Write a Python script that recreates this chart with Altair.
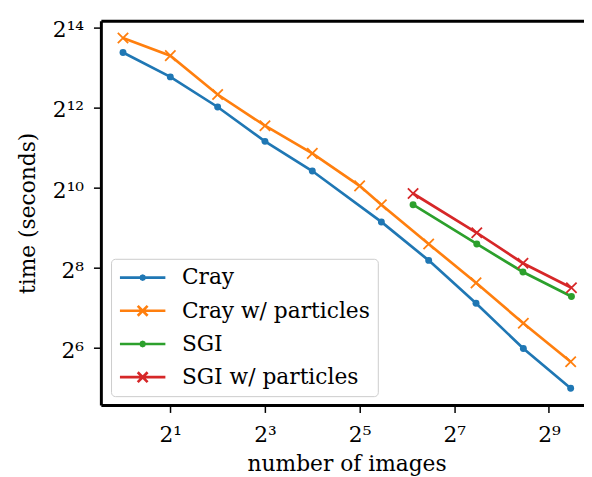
import altair as alt
import pandas as pd

series_names = ["Cray", "Cray w/ particles", "SGI", "SGI w/ particles"]
colors = ["#1f77b4", "#ff7f0e", "#2ca02c", "#d62728"]

cray_images = [1, 2, 4, 8, 16, 44, 88, 176, 352, 704]
cray_time = [10660, 6985, 4150, 2290, 1370, 568, 292, 139, 63.6, 32]

crayp_images = [1, 2, 4, 8, 16, 32, 44, 88, 176, 352, 704]
crayp_time = [13680, 10090, 5150, 3000, 1860, 1060, 765, 388, 198, 98.4, 50.6]

sgi_images = [70, 178, 350, 712]
sgi_time = [765, 388, 239, 156.5]

sgip_images = [70, 178, 350, 712]
sgip_time = [929, 471, 278, 182]

x_ticks = [2, 8, 32, 128, 512]
x_tick_labels = ["2¹", "2³", "2⁵", "2⁷", "2⁹"]
y_ticks = [64, 256, 1024, 4096, 16384]
y_tick_labels = ["2⁶", "2⁸", "2¹⁰", "2¹²", "2¹⁴"]

rows = []
for name, xs, ys in [
    (series_names[0], cray_images, cray_time),
    (series_names[1], crayp_images, crayp_time),
    (series_names[2], sgi_images, sgi_time),
    (series_names[3], sgip_images, sgip_time),
]:
    for xv, yv in zip(xs, ys):
        rows.append({"series": name, "images": xv, "time": yv})
df = pd.DataFrame(rows)


def label_expr(vals, labels):
    expr = "''"
    for v, l in reversed(list(zip(vals, labels))):
        expr = f"datum.value == {v} ? '{l}' : ({expr})"
    return expr


FONT = "DejaVu Serif"
FS = 22
X_PATH = "M-1,-1L1,1M-1,1L1,-1"
LEG_DOT = ("M-2.3,0L2.3,0"
           "M0.2,0L0.141,0.141L0,0.2L-0.141,0.141L-0.2,0L-0.141,-0.141L0,-0.2L0.141,-0.141Z"
           "M0.07,0L0,0.07L-0.07,0L0,-0.07Z")
LEG_X = "M-2.3,0L2.3,0M-0.5,-0.5L0.5,0.5M-0.5,0.5L0.5,-0.5"

x_scale = alt.Scale(type="log", base=2, domain=[0.7232, 855.8], nice=False)
y_scale = alt.Scale(type="log", base=2, domain=[23.91, 18466], nice=False)
color_scale = alt.Scale(domain=series_names, range=colors)

x_axis = alt.Axis(
    values=x_ticks, labelExpr=label_expr(x_ticks, x_tick_labels),
    title="number of images", titleX=248.7, titleY=66.3, titleBaseline="alphabetic",
    labelBaseline="alphabetic", labelPadding=29.8, tickSize=7.5,
)
y_axis = alt.Axis(
    values=y_ticks, labelExpr=label_expr(y_ticks, y_tick_labels),
    title="time (seconds)", titleX=-67, titleBaseline="alphabetic",
    labelBaseline="alphabetic", labelOffset=9.3, labelPadding=10, tickSize=7.5,
)

base = alt.Chart(df)

legend = alt.Legend(
    orient="none", legendX=10.3, legendY=241, title=None,
    labelFont=FONT, labelFontSize=FS, labelColor="black", labelLimit=400,
    symbolSize=400, symbolStrokeWidth=2.7, symbolOffset=13, labelOffset=28.2,
    symbolOpacity=1, rowPadding=10.6, padding=7.5,
    fillColor="rgba(255,255,255,0.8)", strokeColor="#cccccc", cornerRadius=4,
)

# empty layer that only carries the legend and the top spine
legend_layer = base.transform_filter("false").mark_point(filled=False).encode(
    x=alt.X("images:Q", scale=x_scale,
            axis=alt.Axis(orient="top", labels=False, ticks=False, title=None)),
    y=alt.Y("time:Q", scale=y_scale, axis=y_axis),
    color=alt.Color("series:N", scale=color_scale, legend=legend),
    shape=alt.Shape("series:N", scale=alt.Scale(domain=series_names,
                                                range=[LEG_DOT, LEG_X, LEG_DOT, LEG_X]),
                    legend=legend),
)

lines = base.mark_line(strokeWidth=2.7).encode(
    x=alt.X("images:Q", scale=x_scale, axis=x_axis),
    y=alt.Y("time:Q", scale=y_scale, axis=y_axis),
    color=alt.Color("series:N", scale=color_scale, legend=None),
    detail="series:N",
    order=alt.Order("images:Q"),
)

dots = base.transform_filter(
    alt.FieldOneOfPredicate(field="series", oneOf=[series_names[0], series_names[2]])
).mark_circle(size=49, opacity=1).encode(
    x=alt.X("images:Q", scale=x_scale, axis=None),
    y=alt.Y("time:Q", scale=y_scale, axis=y_axis),
    color=alt.Color("series:N", scale=color_scale, legend=None),
)

crosses = base.transform_filter(
    alt.FieldOneOfPredicate(field="series", oneOf=[series_names[1], series_names[3]])
).mark_point(shape=X_PATH, size=110, strokeWidth=1.8, filled=False, opacity=1).encode(
    x=alt.X("images:Q", scale=x_scale, axis=None),
    y=alt.Y("time:Q", scale=y_scale, axis=y_axis),
    color=alt.Color("series:N", scale=color_scale, legend=None),
)

chart = alt.layer(legend_layer, lines, dots, crosses).resolve_axis(
    x="independent"
).properties(
    width=489, height=389,
    autosize=alt.AutoSizeParams(type="none"),
    padding={"left": 94, "top": 10, "right": 0, "bottom": 70},
).configure_view(stroke=None).configure_axis(
    domainWidth=3, domainColor="black", tickColor="black", tickWidth=1.5,
    labelFont=FONT, labelFontSize=FS, labelColor="black",
    titleFont=FONT, titleFontSize=FS, titleFontWeight="normal", titleColor="black",
    grid=False,
)

chart.save("out.html", embed_options={"renderer": "svg", "actions": False})
